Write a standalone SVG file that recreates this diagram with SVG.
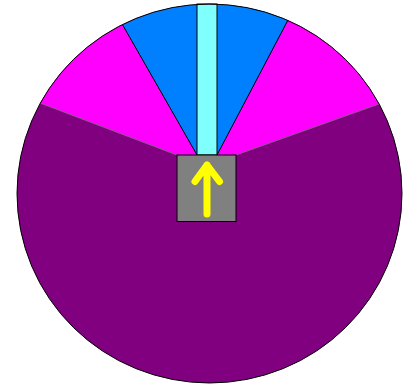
<svg xmlns="http://www.w3.org/2000/svg" width="412" height="387" viewBox="0 0 412 387">
  <style>
    .edge { stroke: #000; stroke-width: 1; fill: none; }
    .soft { stroke: #8a5a8a; stroke-width: 1; fill: none; }
  </style>
  <rect width="412" height="387" fill="#fff"/>
  <g id="disc">
    <ellipse cx="209.5" cy="193.5" rx="192.5" ry="189.5" fill="#800080"/>
  </g>
  <g id="magenta-sectors">
    <path d="M177,155 L40,103 A192.5,189.5 0 0 1 122.7,25 L197,155 Z" fill="#ff00ff"/>
    <path d="M217,155 L288,20 A192.5,189.5 0 0 1 379,104 L236,155 Z" fill="#ff00ff"/>
    <path class="soft" d="M177,155 L40,103 M236,155 L379,104"/>
  </g>
  <g id="blue-sectors">
    <path d="M197,155 L122.7,25 A192.5,189.5 0 0 1 197,4.4 Z" fill="#0080ff"/>
    <path d="M217,155 L217,4.35 A192.5,189.5 0 0 1 288,20 Z" fill="#0080ff"/>
    <path class="edge" d="M197,155 L122.7,25 M217,155 L288,20"/>
  </g>
  <g id="needle">
    <rect x="197" y="4" width="20" height="151" fill="#80ffff" stroke="#000" stroke-width="1"/>
  </g>
  <g id="outline">
    <ellipse cx="209.5" cy="193.5" rx="192.5" ry="189.5" class="edge"/>
  </g>
  <g id="hub">
    <rect x="177" y="155" width="59" height="66.5" fill="#808080" stroke="#000" stroke-width="1"/>
    <path d="M207,214 L207,165 M195,181.5 L207,165 L219.5,181.5" fill="none" stroke="#ffff00" stroke-width="7" stroke-linecap="round" stroke-linejoin="round"/>
  </g>
</svg>
